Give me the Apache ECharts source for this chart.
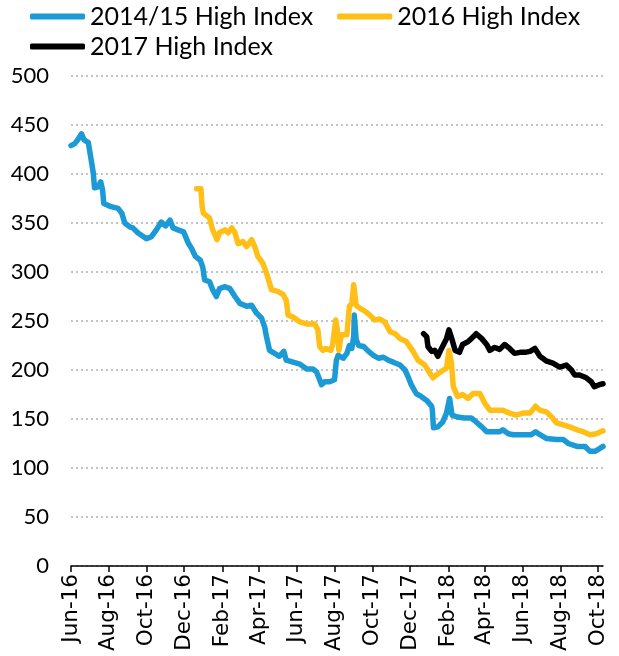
<!DOCTYPE html>
<html>
<head>
<meta charset="utf-8">
<script src="https://cdn.jsdelivr.net/npm/echarts@6/dist/echarts.min.js"></script>
<style>
  html, body { margin: 0; padding: 0; background: #fff; }
  #chart { width: 619px; height: 656px; }
</style>
</head>
<body>
<div id="chart"></div>
<script>
// Bi-monthly tick positions on the date axis and their labels
var tickDates = ['2016-06-01','2016-08-01','2016-10-01','2016-12-01','2017-02-01','2017-04-01',
  '2017-06-01','2017-08-01','2017-10-01','2017-12-01','2018-02-01','2018-04-01','2018-06-01',
  '2018-08-01','2018-10-01'];
var tickLabels = ['Jun-16','Aug-16','Oct-16','Dec-16','Feb-17','Apr-17','Jun-17','Aug-17',
  'Oct-17','Dec-17','Feb-18','Apr-18','Jun-18','Aug-18','Oct-18'];
var axisEndDate = '2018-10-09';

var yTicks = [0, 50, 100, 150, 200, 250, 300, 350, 400, 450, 500];

// 2014/15 High Index
var dates1415 = ['2016-06-01','2016-06-07','2016-06-12','2016-06-18','2016-06-22','2016-06-29',
  '2016-07-04','2016-07-07','2016-07-09','2016-07-15','2016-07-19','2016-07-22','2016-07-24',
  '2016-08-03','2016-08-16','2016-08-22','2016-08-27','2016-09-04','2016-09-09','2016-09-17',
  '2016-10-01','2016-10-09','2016-10-17','2016-10-25','2016-11-01','2016-11-08','2016-11-13',
  '2016-11-21','2016-11-30','2016-12-08','2016-12-13','2016-12-19','2016-12-27','2016-12-31',
  '2017-01-03','2017-01-11','2017-01-16','2017-01-22','2017-01-27','2017-02-05','2017-02-13',
  '2017-02-21','2017-03-01','2017-03-12','2017-03-20','2017-03-28','2017-04-05','2017-04-10',
  '2017-04-13','2017-04-18','2017-04-26','2017-05-04','2017-05-11','2017-05-15','2017-05-26',
  '2017-06-06','2017-06-17','2017-06-27','2017-07-03','2017-07-08','2017-07-11','2017-07-16',
  '2017-07-24','2017-08-01','2017-08-04','2017-08-07','2017-08-15','2017-08-21','2017-08-25',
  '2017-08-29','2017-09-01','2017-09-02','2017-09-05','2017-09-09','2017-09-17','2017-09-25',
  '2017-10-03','2017-10-11','2017-10-19','2017-10-27','2017-11-04','2017-11-15','2017-11-23',
  '2017-11-28','2017-12-03','2017-12-11','2017-12-19','2017-12-28','2018-01-05','2018-01-06',
  '2018-01-08','2018-01-15','2018-01-23','2018-01-29','2018-02-03','2018-02-07','2018-02-16',
  '2018-02-27','2018-03-10','2018-03-18','2018-03-27','2018-04-04','2018-04-14','2018-04-25',
  '2018-04-30','2018-05-09','2018-05-17','2018-05-28','2018-06-07','2018-06-15','2018-06-22',
  '2018-06-29','2018-07-10','2018-07-26','2018-08-06','2018-08-14','2018-08-28','2018-09-10',
  '2018-09-18','2018-09-26','2018-10-04','2018-10-09'];
var values1415 = [429,431,435,441,435,432,
  413,401,386,387,392,384,370,
  367,365,360,350,346,345,340,
  334,336,343,351,347,353,345,
  343,341,329,324,316,312,305,
  292,290,282,275,283,285,283,
  275,268,265,266,258,253,244,
  234,220,217,214,219,210,208,
  206,201,201,198,190,185,188,
  188,190,210,215,212,217,225,
  222,234,256,231,225,224,219,
  215,212,213,210,208,205,200,
  193,185,176,173,169,163,160,
  141,142,147,156,171,154,152,
  151,151,147,142,137,137,137,
  139,135,134,134,134,134,137,
  134,130,129,129,125,122,122,
  117,117,120,122];

// 2016 High Index
var dates2016 = ['2016-12-21','2016-12-28','2016-12-30','2017-01-01','2017-01-07','2017-01-11',
  '2017-01-16','2017-01-23','2017-01-27','2017-02-05','2017-02-10','2017-02-16','2017-02-21',
  '2017-02-26','2017-03-06','2017-03-12','2017-03-20','2017-03-25','2017-03-30','2017-04-07',
  '2017-04-13','2017-04-21','2017-05-02','2017-05-10','2017-05-15','2017-05-18','2017-05-26',
  '2017-06-06','2017-06-17','2017-06-30','2017-07-05','2017-07-08','2017-07-13','2017-07-18',
  '2017-07-26','2017-07-29','2017-08-03','2017-08-06','2017-08-08','2017-08-12','2017-08-21',
  '2017-08-25','2017-08-29','2017-09-01','2017-09-05','2017-09-11','2017-09-19','2017-09-27',
  '2017-10-05','2017-10-13','2017-10-21','2017-10-30','2017-11-07','2017-11-15','2017-11-25',
  '2017-12-06','2017-12-14','2017-12-25','2018-01-02','2018-01-07','2018-01-17','2018-01-29',
  '2018-02-02','2018-02-06','2018-02-09','2018-02-16','2018-02-24','2018-03-05','2018-03-13',
  '2018-03-24','2018-04-01','2018-04-09','2018-04-20','2018-04-30','2018-05-11','2018-05-22',
  '2018-06-02','2018-06-13','2018-06-22','2018-06-29','2018-07-10','2018-07-18','2018-07-26',
  '2018-08-06','2018-08-16','2018-08-28','2018-09-07','2018-09-18','2018-09-28','2018-10-09'];
var values2016 = [385,385,367,360,357,355,
  343,333,340,343,340,345,340,
  329,331,326,333,326,316,309,
  299,282,280,277,271,256,254,
  249,247,247,241,224,220,222,
  220,226,251,239,220,236,236,
  265,268,287,266,263,260,256,
  251,252,249,239,237,232,229,
  219,210,205,197,192,197,202,
  220,207,183,173,175,171,176,
  176,166,159,159,159,156,154,
  156,156,163,159,157,152,146,
  144,142,139,137,134,135,138];

// 2017 High Index
var dates2017 = ['2017-12-23','2017-12-28','2017-12-30','2018-01-05','2018-01-10','2018-01-15',
  '2018-01-21','2018-01-29','2018-02-02','2018-02-07','2018-02-12','2018-02-19','2018-02-24',
  '2018-03-05','2018-03-10','2018-03-18','2018-03-27','2018-04-04','2018-04-09','2018-04-17',
  '2018-04-25','2018-05-03','2018-05-11','2018-05-19','2018-05-28','2018-06-05','2018-06-13',
  '2018-06-21','2018-06-29','2018-07-10','2018-07-20','2018-07-31','2018-08-11','2018-08-19',
  '2018-08-24','2018-09-01','2018-09-12','2018-09-20','2018-09-25','2018-10-03','2018-10-09'];
var values2017 = [237,234,224,219,220,214,
  222,232,241,231,220,218,226,
  229,232,237,232,226,220,223,
  221,226,222,217,218,218,219,
  222,214,209,207,203,205,200,
  195,195,192,188,183,185,186];

// Dates are placed on a linear millisecond scale
function ts(s) {
  var p = s.split('-');
  return Date.UTC(+p[0], +p[1] - 1, +p[2]);
}
function zip(ds, vs) {
  return ds.map(function (d, i) { return [ts(d), vs[i]]; });
}
var tickTimes = tickDates.map(ts);

var chart = echarts.init(document.getElementById('chart'), null, { renderer: 'canvas' });

var legendText = { fontFamily: 'Lato', fontSize: 25, color: '#000' };

chart.setOption({
  animation: false,
  backgroundColor: '#fff',
  legend: [
    {
      data: ['2014/15 High Index', '2016 High Index'],
      left: 30, top: 4, padding: 0,
      itemWidth: 55, itemHeight: 6, itemGap: 24,
      icon: 'roundRect',
      textStyle: legendText
    },
    {
      data: ['2017 High Index'],
      left: 30, top: 34, padding: 0,
      itemWidth: 55, itemHeight: 6,
      icon: 'roundRect',
      textStyle: legendText
    }
  ],
  grid: { left: 71, right: 16, top: 76, bottom: 90 },
  xAxis: {
    type: 'value',
    min: tickTimes[0],
    max: ts(axisEndDate),
    axisLine: { show: true, lineStyle: { color: '#000', width: 1.5 } },
    axisTick: {
      show: true, inside: false, length: 6,
      lineStyle: { color: '#000', width: 1.5 },
      customValues: tickTimes
    },
    splitLine: { show: false },
    axisLabel: {
      customValues: tickTimes,
      rotate: 90,
      margin: 8,
      fontFamily: 'DejaVu Sans',
      fontSize: 21.5,
      color: '#000',
      formatter: function (v) {
        var i = tickTimes.indexOf(v);
        return i >= 0 ? tickLabels[i] : '';
      }
    }
  },
  yAxis: {
    type: 'value',
    min: yTicks[0],
    max: yTicks[yTicks.length - 1],
    interval: yTicks[1] - yTicks[0],
    axisLine: { show: false },
    axisTick: { show: false },
    axisLabel: { fontFamily: 'Lato', fontSize: 22, color: '#000', margin: 22 },
    splitLine: {
      show: true,
      lineStyle: { color: '#c4c4c4', width: 2, type: [2, 3] }
    }
  },
  series: [
    {
      name: '2014/15 High Index', type: 'line', showSymbol: false, symbol: 'none',
      data: zip(dates1415, values1415),
      itemStyle: { color: '#1b9ad6' },
      lineStyle: { color: '#1b9ad6', width: 5.5, cap: 'round', join: 'round' }
    },
    {
      name: '2016 High Index', type: 'line', showSymbol: false, symbol: 'none',
      data: zip(dates2016, values2016),
      itemStyle: { color: '#ffbf17' },
      lineStyle: { color: '#ffbf17', width: 5.5, cap: 'round', join: 'round' }
    },
    {
      name: '2017 High Index', type: 'line', showSymbol: false, symbol: 'none',
      data: zip(dates2017, values2017),
      itemStyle: { color: '#000' },
      lineStyle: { color: '#000', width: 5.5, cap: 'round', join: 'round' }
    }
  ]
});
</script>
</body>
</html>
